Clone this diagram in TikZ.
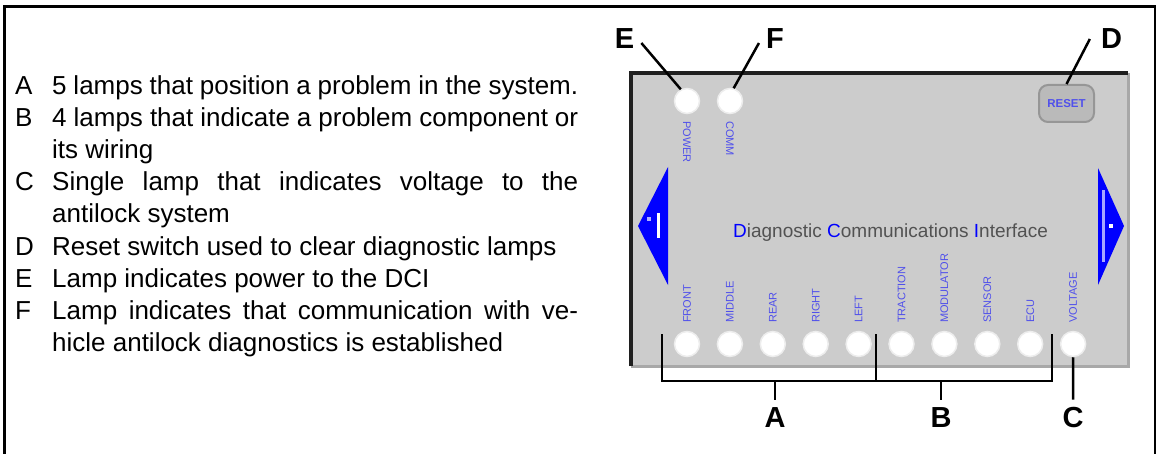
\documentclass[tikz,border=0pt]{standalone}
\usepackage{fontspec}
\setmainfont{Liberation Sans}
\usepackage{xcolor}
\usepackage{tikz}

\definecolor{dciblue}{RGB}{0,0,255}
\definecolor{tagblue}{RGB}{80,80,235}
\definecolor{panelgray}{RGB}{204,204,204}
\definecolor{edgegray}{RGB}{168,168,168}
\definecolor{btngray}{RGB}{186,186,186}
\definecolor{btnedge}{RGB}{150,150,150}

\begin{document}
\begin{tikzpicture}[x=1pt, y=-1pt,
  panel/.style={fill=panelgray, minimum width=497pt, minimum height=293pt, inner sep=0pt},
  lamp/.style={circle, fill=white, draw=black!7, line width=1.5pt,
    minimum size=25pt, inner sep=0pt},
  button/.style={draw=btnedge, line width=2pt, fill=btngray, rounded corners=9pt,
    minimum width=55pt, minimum height=37pt, inner sep=0pt,
    font=\fontsize{11.5}{11.5}\selectfont\bfseries, text=tagblue},
  tag/.style={font=\fontsize{11}{11}\selectfont, text=tagblue, inner sep=0pt},
  letter/.style={font=\fontsize{29}{29}\selectfont\bfseries, inner sep=7pt, anchor=base},
  key/.style={font=\fontsize{26}{32}\selectfont, inner sep=0pt, anchor=base west},
  desc/.style={key, text width=526pt, align=justify},
  wire/.style={line width=2.5pt},
  frame/.style={line width=2.5pt}
]
\useasboundingbox (0,0) rectangle (1158,454);
\draw[frame] (4.5,454) -- (4.5,6.5) -- (1155,6.5) -- (1155,454);

% Key: letters and descriptions
\node[key] (keyA) at (15,95) {A};
\node[desc] (textA) at (52,95) {5 lamps that position a problem in the system.};
\node[key] (keyB) at (15,127) {B};
\node[desc] (textB) at (52,127) {4 lamps that indicate a problem component or\linebreak its wiring};
\node[key] (keyC) at (15,191) {C};
\node[desc] (textC) at (52,191) {Single lamp that indicates voltage to the\linebreak antilock system};
\node[key] (keyD) at (15,255) {D};
\node[desc] (textD) at (52,255) {Reset switch used to clear diagnostic lamps};
\node[key] (keyE) at (15,287) {E};
\node[desc] (textE) at (52,287) {Lamp indicates power to the DCI};
\node[key] (keyF) at (15,319) {F};
\node[desc] (textF) at (52,319) {Lamp indicates that communication with ve-\linebreak hicle antilock diagnostics is established};

% DCI panel
\node[panel] (panel) at (879.5,219.5) {};
\draw[line width=3pt, edgegray] (panel.north east) -- (panel.south east) -- (panel.south west);
\draw[line width=3.5pt, black!88] (panel.south west) -- (panel.north west) -- (panel.north east);

% Side arrows
\fill[dciblue] (638,226) -- (668,167) -- (668,285) -- cycle;
\fill[white] (657,213) rectangle (660,238);
\fill[blue!30] (647,217) rectangle (651,221);
\fill[dciblue] (1098,168) -- (1124,226) -- (1098,285) -- cycle;
\fill[blue!35] (1101.5,190) rectangle (1104.5,262);
\fill[white] (1109,224) rectangle (1113,228);

\node[font=\fontsize{19}{19}\selectfont, text=black!68, anchor=base, inner sep=0pt] (title) at (890.5,238)
  {\textcolor{dciblue}{D}iagnostic \textcolor{dciblue}{C}ommunications \textcolor{dciblue}{I}nterface};

% Top row: power, comm, reset
\node[lamp] (power) at (687,101) {};
\node[lamp] (comm) at (730,101) {};
\node[tag, rotate=-90, anchor=west] (powertag) at (687,121) {POWER};
\node[tag, rotate=-90, anchor=west] (commtag) at (730,121) {COMM};
\node[button] (reset) at (1066.5,103.5) {RESET};

% Bottom row: 10 lamps
\foreach \name [count=\i] in {FRONT,MIDDLE,REAR,RIGHT,LEFT,TRACTION,MODULATOR,SENSOR,ECU,VOLTAGE} {
  \node[lamp] (lamp\i) at ({687+42.9*(\i-1)},344) {};
  \node[tag, rotate=90, anchor=west] (tag\i) at ({687+42.9*(\i-1)},323) {\name};
}

% Letters
\node[letter] (lblE) at (624.5,49) {E};
\node[letter] (lblF) at (775,49) {F};
\node[letter] (lblD) at (1111.5,49) {D};
\node[letter] (lblA) at (775,427) {A};
\node[letter] (lblB) at (941,427) {B};
\node[letter] (lblC) at (1073,427) {C};

% Leaders
\draw[wire] ([yshift=-4pt]lblE.east) -- (power.118);
\draw[wire] ([yshift=-4pt]lblF.west) -- (comm.74);
\draw[wire] ([xshift=-4pt]lblD.west) -- (reset.north);

% Brackets
\coordinate (brA) at (662,334);
\coordinate (brMid) at (876,334);
\coordinate (brB) at (1052,334);
\coordinate (brBase) at (662,381);
\draw[wire] (brA) -- (brBase) -| (brB);
\draw[wire] (brMid) -- (brMid |- brBase);
\draw[wire] (lblA |- brBase) -- (lblA.north);
\draw[wire] (lblB |- brBase) -- (lblB.north);
\draw[wire] (lamp10.south) -- (lblC.north);
\end{tikzpicture}
\end{document}
